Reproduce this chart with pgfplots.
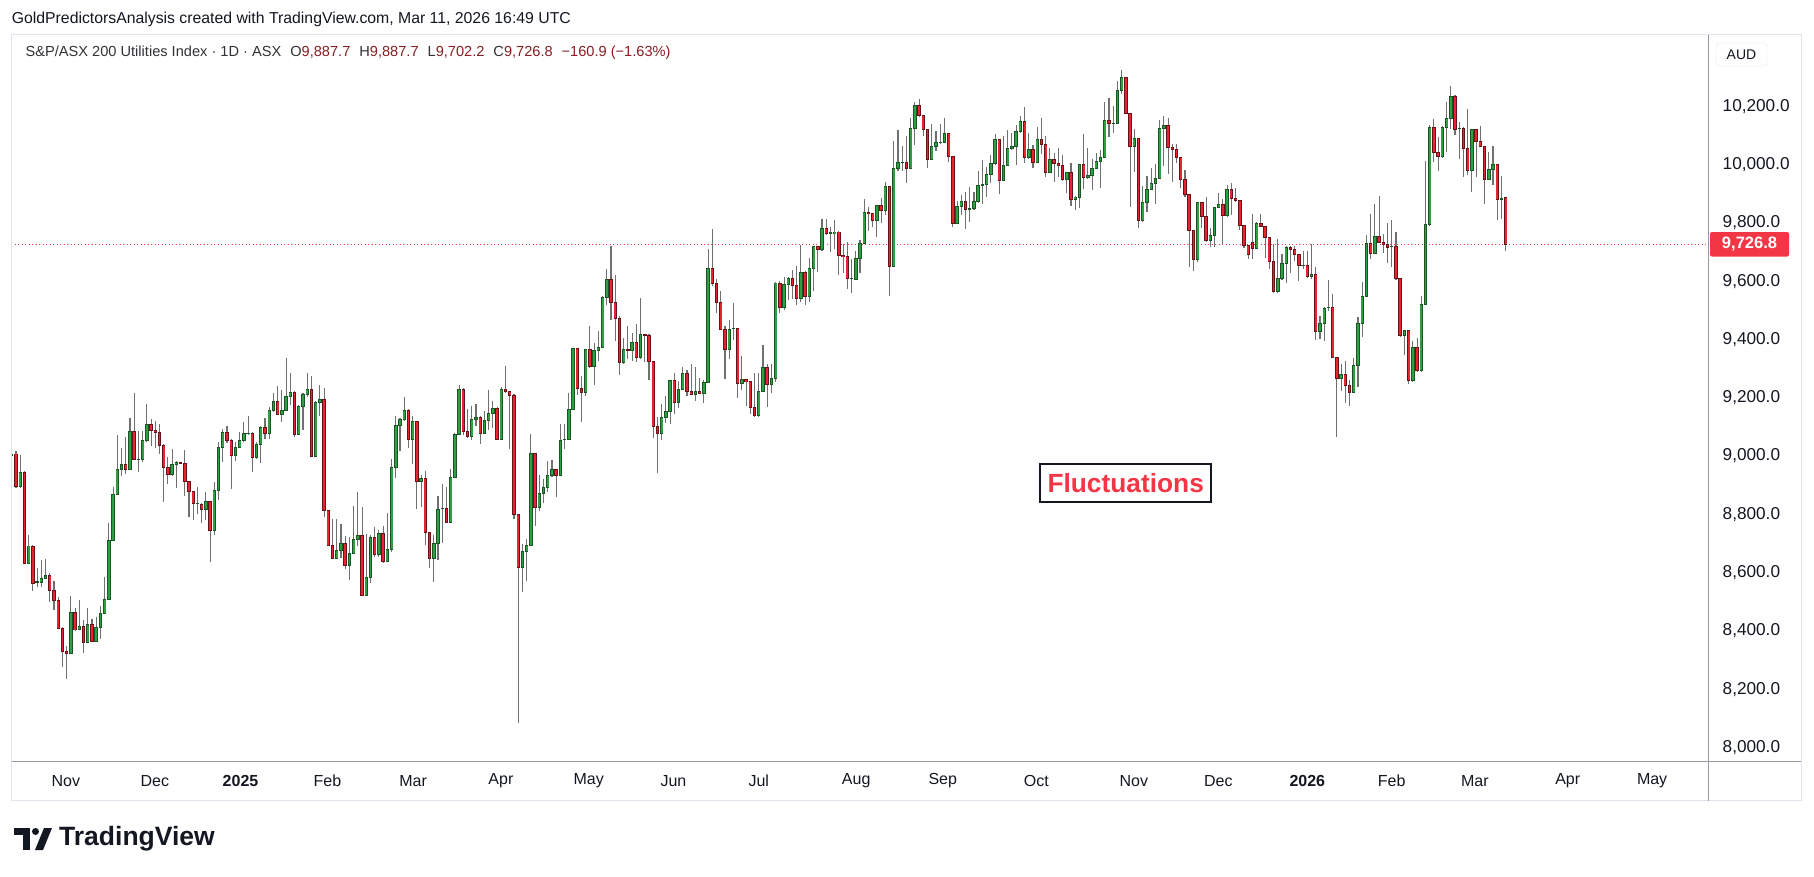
\documentclass[border=0pt]{standalone}
\usepackage{pgfplots}
\pgfplotsset{compat=1.18}
\usepackage{pgfplotstable}
\usepackage{fontspec}
\setmainfont{Liberation Sans}
\definecolor{gfill}{RGB}{46,160,67}
\definecolor{gline}{RGB}{24,86,36}
\definecolor{rfill}{RGB}{232,36,52}
\definecolor{rline}{RGB}{104,18,24}
\definecolor{wickc}{RGB}{112,112,112}
\definecolor{tvtext}{RGB}{19,23,34}
\definecolor{hdrtext}{RGB}{50,50,55}
\definecolor{tvred}{RGB}{242,54,69}
\definecolor{valred}{RGB}{135,30,35}
\definecolor{framec}{RGB}{224,227,235}
\definecolor{sepc}{RGB}{150,152,160}
\newcommand\fs[1]{\fontsize{#1}{#1}\selectfont}

\pgfplotstableread{
x o h l c
0 9004 9010 9000 9004
2 8895 9004 8890 8944
4 8632 8729 8628 8691
6 8566 8615 8552 8568
7 8566 8643 8552 8580
8 8580 8647 8578 8589
14 8323 8520 8320 8464
16 8405 8506 8403 8414
18 8359 8477 8357 8422
20 8365 8446 8362 8412
21 8412 8485 8373 8460
22 8460 8585 8458 8508
23 8508 8769 8505 8711
24 8711 8893 8709 8869
25 8869 9072 8866 8954
26 8954 9026 8933 8972
28 8954 9129 8952 9085
30 8989 9086 8946 8989
31 8989 9086 8981 9054
32 9054 9179 9050 9109
38 8936 9023 8930 8972
39 8972 8982 8891 8978
44 8838 8893 8801 8838
46 8816 8875 8782 8844
48 8744 8910 8729 8882
49 8882 9048 8850 9030
50 9030 9093 8981 9081
53 9001 9047 8984 9030
54 9030 9081 9028 9054
55 9054 9117 9047 9076
56 9079 9137 9072 9079
58 8994 9049 8990 9040
59 9040 9104 8977 9099
61 9078 9170 9058 9157
62 9157 9215 9150 9188
64 9143 9227 9118 9157
65 9157 9336 9155 9205
66 9205 9284 9176 9219
68 9075 9175 9072 9171
69 9171 9215 9088 9212
70 9212 9284 9202 9229
72 8999 9190 8997 9185
73 9185 9243 9136 9195
77 8648 8784 8645 8676
78 8676 8766 8651 8700
80 8624 8722 8576 8666
81 8666 8829 8664 8715
82 8715 8877 8692 8728
84 8521 8733 8518 8584
85 8584 8729 8564 8721
87 8662 8746 8652 8735
89 8639 8804 8635 8680
90 8680 8989 8672 8961
91 8961 9136 8926 9106
92 9106 9130 9019 9126
93 9126 9203 9120 9157
95 9058 9136 8974 9119
97 8912 8934 8826 8922
100 8648 8728 8568 8700
101 8700 8863 8644 8817
102 8821 8904 8703 8821
104 8773 8955 8770 8927
105 8927 9078 8926 9075
106 9075 9243 9072 9229
109 9068 9171 9056 9126
110 9126 9178 9102 9133
112 9078 9154 9075 9123
113 9123 9226 9091 9147
114 9147 9188 9098 9164
116 9058 9236 9055 9229
121 8618 8698 8532 8673
122 8673 8714 8572 8693
123 8693 9075 8690 9009
125 8822 8935 8813 8872
126 8872 8920 8840 8892
127 8892 8983 8877 8934
128 8934 8986 8929 8954
130 8934 9110 8930 9054
131 9057 9110 9025 9057
132 9057 9215 9054 9160
133 9160 9372 9157 9369
136 9217 9369 9207 9366
138 9307 9387 9245 9363
139 9363 9429 9327 9373
140 9373 9548 9370 9545
141 9545 9642 9517 9606
145 9321 9407 9317 9366
147 9363 9424 9326 9390
149 9337 9541 9334 9418
154 9077 9178 9056 9133
155 9133 9205 9114 9153
156 9153 9262 9111 9260
158 9183 9256 9166 9229
159 9229 9305 9226 9284
162 9212 9305 9190 9222
164 9215 9261 9183 9253
165 9253 9710 9250 9644
170 9365 9467 9332 9435
171 9438 9525 9399 9438
173 9248 9343 9226 9263
177 9138 9285 9135 9222
178 9222 9381 9220 9305
180 9245 9316 9217 9267
181 9267 9598 9255 9594
183 9510 9613 9500 9590
184 9590 9616 9536 9610
187 9542 9724 9530 9631
189 9549 9681 9530 9645
190 9645 9722 9568 9720
192 9710 9814 9705 9780
194 9766 9787 9702 9766
195 9764 9811 9709 9769
199 9610 9676 9561 9610
200 9607 9704 9605 9677
201 9677 9741 9630 9731
202 9731 9883 9727 9837
205 9808 9863 9753 9861
207 9844 9941 9827 9926
209 9650 10082 9648 9988
210 9988 10120 9977 10009
211 10009 10065 9977 10009
213 9987 10161 9985 10125
214 10125 10216 10068 10204
218 10018 10141 10015 10063
219 10063 10117 10047 10077
220 10077 10139 10070 10077
221 10077 10160 10075 10107
224 9798 9877 9795 9857
225 9857 9896 9829 9874
227 9849 9922 9803 9849
228 9849 9907 9845 9874
229 9874 9979 9870 9929
230 9932 10016 9864 9932
231 9932 9991 9888 9967
232 9967 10033 9936 10004
233 10004 10105 10000 10087
235 9946 10098 9943 9998
236 9998 10119 9995 10056
237 10056 10110 10050 10063
238 10063 10138 9998 10114
239 10114 10167 10110 10149
241 10025 10110 10020 10052
243 10007 10130 10005 10087
246 9973 10057 9970 10018
250 9949 9976 9902 9974
252 9880 9892 9846 9889
253 9887 10003 9853 10001
255 9956 10056 9950 9964
256 9964 10018 9914 9988
257 9988 10039 9985 10012
258 10012 10049 9921 10025
259 10025 10214 10022 10152
261 10143 10200 10108 10143
262 10142 10287 10140 10255
263 10255 10324 10244 10300
266 10063 10121 9976 10091
268 9809 9926 9805 9871
269 9871 9960 9837 9916
270 9916 9988 9912 9936
271 9936 10004 9866 9953
272 9953 10152 9950 10125
273 10125 10167 9996 10135
281 9674 9873 9667 9871
284 9739 9784 9719 9758
285 9758 9856 9719 9854
286 9854 9902 9850 9864
288 9825 9930 9822 9916
295 9712 9805 9710 9799
300 9564 9745 9560 9610
301 9610 9695 9605 9661
302 9661 9720 9595 9716
306 9655 9704 9641 9655
308 9616 9729 9609 9624
310 9428 9481 9403 9456
311 9456 9510 9396 9507
312 9511 9604 9499 9511
315 9266 9316 9224 9281
318 9218 9335 9215 9311
319 9311 9477 9238 9456
320 9456 9597 9410 9548
321 9548 9758 9545 9730
323 9696 9865 9694 9754
327 9720 9809 9650 9720
330 9414 9434 9348 9432
332 9260 9395 9254 9373
334 9294 9549 9287 9521
335 9521 10012 9518 9795
336 9795 10135 9790 10128
339 10029 10132 10022 10128
340 10128 10214 10045 10159
341 10159 10269 10121 10235
343 10125 10146 10021 10125
346 9980 10124 9908 10121
350 9949 10043 9946 9983
351 9984 10064 9932 10001
353 9884 9961 9815 9884
}\gdata

\pgfplotstableread{
x o h l c
1 9007 9017 8890 8895
3 8944 8948 8628 8632
5 8691 8695 8538 8563
9 8589 8597 8500 8538
10 8538 8570 8472 8505
11 8505 8515 8405 8409
12 8409 8412 8277 8328
13 8330 8348 8234 8322
15 8464 8477 8400 8403
17 8414 8437 8325 8359
19 8422 8440 8362 8365
27 8972 9064 8937 8954
29 9085 9215 8985 8989
33 9109 9126 9036 9088
34 9088 9119 9029 9081
35 9081 9109 9008 9037
36 9037 9040 8843 8961
37 8961 8996 8904 8936
40 8978 8981 8975 8977
41 8975 9020 8863 8912
42 8912 8915 8792 8878
43 8878 8880 8782 8838
45 8834 8838 8771 8816
47 8844 8846 8637 8744
51 9081 9102 9044 9054
52 9054 9058 8888 9001
57 9078 9081 8946 8994
60 9099 9131 9059 9078
63 9188 9241 9140 9143
67 9219 9222 9067 9075
71 9229 9274 8997 8999
74 9195 9233 8792 8814
75 8814 8816 8690 8694
76 8694 8785 8646 8648
79 8700 8725 8614 8624
83 8728 8824 8518 8521
86 8721 8755 8652 8662
88 8735 8760 8632 8639
94 9157 9160 9028 9058
96 9119 9122 8818 8912
98 8922 8948 8695 8738
99 8738 8740 8617 8648
103 8821 8894 8770 8773
107 9229 9232 9072 9085
108 9085 9160 9063 9068
111 9133 9136 9043 9078
115 9164 9167 9055 9058
117 9229 9309 9215 9222
118 9222 9225 9025 9209
119 9209 9212 8783 8799
120 8799 8800 8083 8618
124 9009 9012 8761 8822
129 8954 8957 8860 8934
134 9369 9372 9210 9231
135 9231 9274 9118 9217
137 9366 9446 9303 9307
142 9606 9720 9468 9527
143 9527 9621 9396 9472
144 9472 9480 9279 9321
146 9366 9448 9334 9363
148 9390 9453 9324 9337
150 9418 9420 9324 9416
151 9414 9418 9262 9325
152 9325 9327 9062 9101
153 9102 9133 8943 9077
157 9260 9284 9145 9183
160 9284 9295 9207 9221
161 9222 9316 9210 9212
163 9222 9268 9213 9215
166 9644 9779 9585 9591
167 9593 9606 9492 9527
168 9527 9566 9432 9435
169 9435 9446 9265 9365
172 9438 9440 9200 9248
174 9263 9265 9172 9255
175 9256 9258 9146 9166
176 9166 9285 9135 9138
179 9305 9316 9169 9245
182 9593 9600 9490 9510
185 9610 9639 9540 9585
186 9586 9653 9520 9542
188 9631 9635 9520 9549
191 9720 9722 9633 9710
193 9780 9814 9760 9764
196 9769 9771 9620 9688
197 9689 9728 9630 9684
198 9686 9735 9575 9610
203 9837 9854 9771 9832
204 9833 9835 9788 9808
206 9861 9886 9801 9844
208 9926 9928 9551 9650
212 10008 10097 9936 9987
215 10204 10225 10165 10169
216 10169 10172 10099 10121
217 10121 10123 9990 10018
222 10107 10110 10011 10028
223 10028 10030 9785 9798
226 9874 9907 9781 9847
234 10087 10090 9898 9946
240 10149 10197 10007 10025
242 10053 10068 9989 10007
244 10087 10160 10038 10070
245 10070 10097 9959 9973
247 10018 10039 9942 10005
248 10005 10057 9959 9997
249 9997 10032 9945 9949
251 9974 10005 9859 9880
254 10001 10105 9918 9956
260 10152 10228 10094 10142
264 10300 10302 10173 10176
265 10176 10178 9856 10063
267 10091 10093 9782 9809
274 10135 10159 9969 10059
275 10060 10070 9942 10052
276 10053 10071 10007 10025
277 10025 10027 9920 9950
278 9950 9982 9890 9898
279 9898 9900 9649 9774
280 9775 9777 9636 9674
282 9871 9873 9784 9822
283 9823 9889 9736 9739
287 9864 9882 9728 9825
289 9916 9936 9829 9885
290 9885 9920 9873 9877
291 9878 9880 9777 9791
292 9792 9794 9715 9723
293 9723 9725 9678 9691
294 9734 9832 9678 9712
296 9799 9832 9785 9788
297 9788 9790 9681 9750
298 9750 9752 9643 9667
299 9668 9729 9560 9564
303 9716 9720 9630 9710
304 9710 9720 9668 9692
305 9692 9694 9602 9655
307 9655 9704 9612 9616
309 9624 9648 9400 9428
313 9511 9556 9335 9339
314 9339 9340 9067 9266
316 9281 9325 9183 9242
317 9243 9261 9173 9218
322 9730 9832 9678 9696
324 9754 9893 9732 9734
325 9734 9761 9696 9727
326 9727 9800 9664 9715
328 9720 9768 9605 9609
329 9610 9612 9410 9414
331 9432 9434 9248 9260
333 9373 9404 9287 9294
337 10128 10157 10011 10043
338 10043 10094 9980 10029
342 10235 10238 10102 10121
344 10125 10128 9959 10056
345 10056 10191 9966 9980
347 10121 10124 9959 10080
348 10080 10133 10060 10063
349 10063 10065 9866 9949
352 10001 10003 9811 9880
354 9887.7 9887.7 9702.2 9726.8
}\rdata

\pgfplotsset{
  candlest/.style 2 args={draw=none, mark=none, forget plot,
    error bars/.cd, y dir=both, y explicit, error mark=none,
    error bar style={draw=#1, line width=#2}},
}

\begin{document}
\begin{tikzpicture}
\fill[white] (0pt,0pt) rectangle (1814pt,-877pt);
\path[use as bounding box] (0pt,0pt) rectangle (1814pt,-877pt);
\begin{axis}[
  at={(11.6pt,-34.7pt)}, anchor=north west,
  scale only axis, width=1697.2pt, height=726.5pt,
  xmin=-0.047, xmax=402.13, ymin=7952.5, ymax=10446.3,
  axis line style={draw=none},
  clip mode=individual,
  major tick length=0pt,
  ytick={8000,8200,...,10200},
  yticklabel pos=right,
  scaled y ticks=false,
  /pgf/number format/fixed,
  /pgf/number format/fixed zerofill,
  /pgf/number format/precision=1,
  /pgf/number format/1000 sep={,},
  /pgf/number format/assume math mode=true,
  yticklabel style={anchor=west, inner sep=0pt, xshift=13.7pt, font=\fs{17.2}, text=tvtext},
  xtick={12.8,33.9,54.2,74.8,95.1,115.9,136.7,156.8,177.0,200.1,220.6,242.8,265.9,285.9,307.0,327.0,346.7,368.7,388.7},
  xticklabels={Nov,Dec,\textbf{2025},Feb,Mar,Apr,May,Jun,Jul,Aug,Sep,Oct,Nov,Dec,\textbf{2026},Feb,Mar,Apr,May},
  xticklabel style={anchor=center, inner sep=0pt, yshift=-19.8pt, font=\fs{16}, text=tvtext},
]
\addplot[tvred, line width=1.1pt, dash pattern=on 1.1pt off 2.4pt, forget plot] coordinates {(-1,9726.8) (403,9726.8)};
\addplot[candlest={wickc}{1.1pt}] table[x=x, y expr=(\thisrow{h}+\thisrow{l})/2, y error expr=(\thisrow{h}-\thisrow{l})/2] {\gdata};
\addplot[candlest={wickc}{1.1pt}] table[x=x, y expr=(\thisrow{h}+\thisrow{l})/2, y error expr=(\thisrow{h}-\thisrow{l})/2] {\rdata};
\addplot[candlest={gline}{3.4pt}] table[x=x, y expr=(\thisrow{o}+\thisrow{c})/2, y error expr={abs(\thisrow{c}-\thisrow{o})/2+1.5}] {\gdata};
\addplot[candlest={gfill}{1.8pt}] table[x=x, y expr=(\thisrow{o}+\thisrow{c})/2, y error expr={max(abs(\thisrow{c}-\thisrow{o})/2-1.5,0)}] {\gdata};
\addplot[candlest={rline}{3.4pt}] table[x=x, y expr=(\thisrow{o}+\thisrow{c})/2, y error expr={abs(\thisrow{c}-\thisrow{o})/2+1.5}] {\rdata};
\addplot[candlest={rfill}{1.8pt}] table[x=x, y expr=(\thisrow{o}+\thisrow{c})/2, y error expr={max(abs(\thisrow{c}-\thisrow{o})/2-1.5,0)}] {\rdata};
\end{axis}
% frame
\draw[framec, line width=1pt] (11.6pt,-34.7pt) rectangle (1801.3pt,-800.6pt);
\draw[sepc, line width=1pt] (1708.8pt,-34.7pt) -- (1708.8pt,-800.6pt);
\draw[sepc, line width=1pt] (11.6pt,-761.2pt) -- (1801.3pt,-761.2pt);
% header
\node[anchor=west, inner sep=0pt, font=\fs{15.8}, text=tvtext] at (11.6pt,-19.7pt) {GoldPredictorsAnalysis created with TradingView.com, Mar 11, 2026 16:49 UTC};
\node[anchor=west, inner sep=0pt, font=\fs{14.6}, text=hdrtext] at (25.5pt,-53.2pt) {S\&P/ASX 200 Utilities Index · 1D · ASX\hspace{9pt}O{\color{valred}9,887.7}\hspace{9pt}H{\color{valred}9,887.7}\hspace{9pt}L{\color{valred}9,702.2}\hspace{9pt}C{\color{valred}9,726.8}\hspace{9pt}{\color{valred}−160.9 (−1.63\%)}};
% AUD
\node[draw=framec, rounded corners=3pt, font=\fs{14}, text=tvtext, minimum width=51pt, minimum height=23pt, inner sep=0pt] at (1741.5pt,-54.5pt) {AUD};
% price label
\node[fill=tvred, text=white, font=\bfseries\fs{16.5}, minimum width=79pt, minimum height=24.5pt, inner sep=0pt, rounded corners=2pt] at (1749.5pt,-244.3pt) {9,726.8};
% annotation
\node[draw=tvtext, line width=1.5pt, fill=white, text=tvred, font=\bfseries\fs{26.3}, minimum width=171pt, minimum height=38pt, inner sep=0pt] at (1125.7pt,-483pt) {Fluctuations};
% logo
\fill[tvtext] (14pt,-828pt) rectangle (30pt,-835pt);
\fill[tvtext] (23pt,-828pt) rectangle (30pt,-850pt);
\fill[tvtext] (35.5pt,-831.5pt) circle (3.5pt);
\fill[tvtext] (44pt,-828pt) -- (52pt,-828pt) -- (43pt,-850pt) -- (35pt,-850pt) -- cycle;
\node[anchor=west, inner sep=0pt, font=\bfseries\fs{26.5}, text=tvtext] at (59pt,-839pt) {TradingView};
\end{tikzpicture}
\end{document}
